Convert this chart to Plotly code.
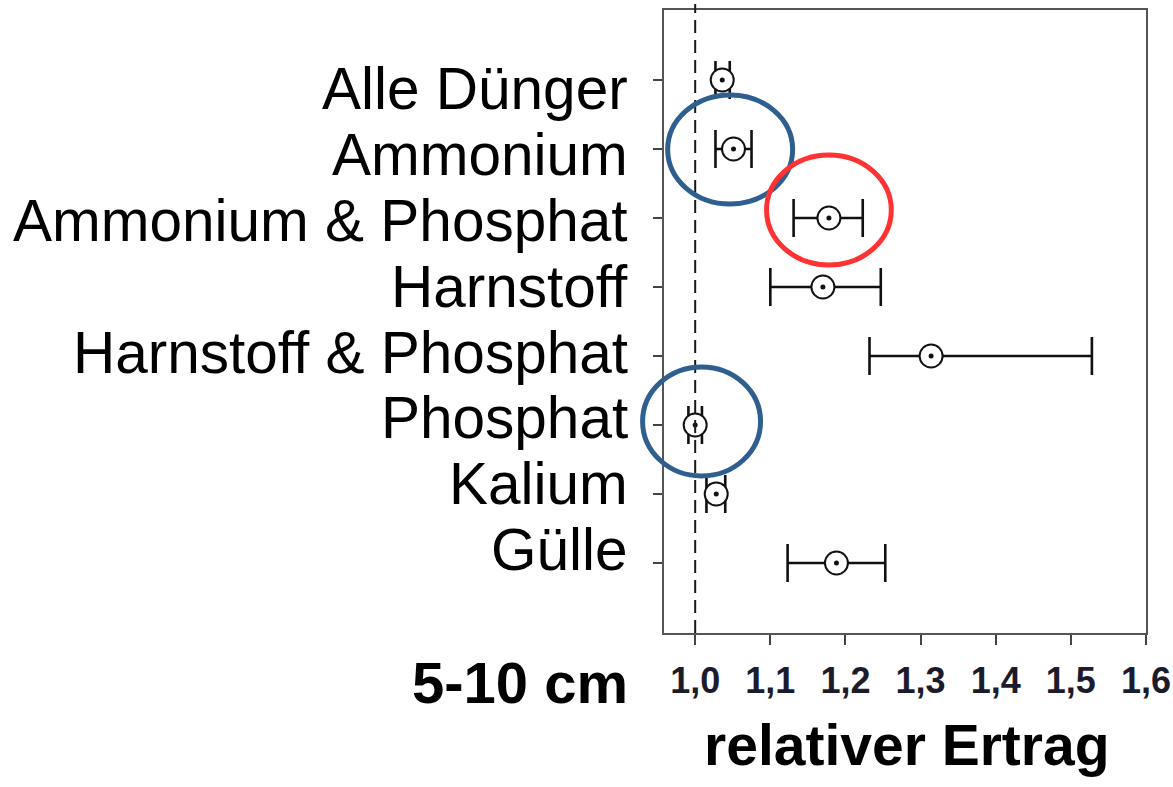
import plotly.graph_objects as go

# ---------------- data ----------------
categories = [
    "Alle Dünger",
    "Ammonium",
    "Ammonium & Phosphat",
    "Harnstoff",
    "Harnstoff & Phosphat",
    "Phosphat",
    "Kalium",
    "Gülle",
]
mean_values = [1.036, 1.051, 1.178, 1.170, 1.314, 1.000, 1.028, 1.188]
ci_low = [1.027, 1.027, 1.131, 1.100, 1.232, 0.991, 1.015, 1.123]
ci_high = [1.046, 1.075, 1.223, 1.247, 1.528, 1.009, 1.040, 1.253]

x_tick_values = [1.0, 1.1, 1.2, 1.3, 1.4, 1.5, 1.6]
x_tick_labels = ["1,0", "1,1", "1,2", "1,3", "1,4", "1,5", "1,6"]
reference_value = 1.0
depth_label = "5-10 cm"
x_title = "relativer Ertrag"

# highlight ellipses (value span, category span, colour)
highlights = [
    ((0.9634, 1.1297), (0.217, 1.797), "#2f5f8f"),
    ((1.095, 1.261), (1.087, 2.681), "#ff3333"),
    ((0.930, 1.087), (4.159, 5.739), "#2f5f8f"),
]

# ---------------- layout geometry ----------------
X_RANGE = [0.9585, 1.6]
Y_RANGE = [8.0145, -1.0145]
W, H = 1173, 787
M = dict(l=664, r=27, t=10, b=154)
PLOT_W = W - M["l"] - M["r"]
PLOT_H = H - M["t"] - M["b"]

# category labels sit on a slightly tighter pitch than the ticks
LABEL_OFFSET = 0.13
LABEL_PITCH = 0.9536


def px(v):
    return (v - X_RANGE[0]) / (X_RANGE[1] - X_RANGE[0])


def py(c):
    return (c - Y_RANGE[0]) / (Y_RANGE[1] - Y_RANGE[0])


def paper_x_from_pixel(p):
    return (p - M["l"]) / PLOT_W


def paper_y_from_pixel(p):
    return (M["t"] + PLOT_H - p) / PLOT_H


y_idx = list(range(len(categories)))
err_plus = [h - m for h, m in zip(ci_high, mean_values)]
err_minus = [m - l for m, l in zip(mean_values, ci_low)]

fig = go.Figure()
fig.add_trace(go.Scatter(
    x=mean_values, y=y_idx, mode="markers",
    marker=dict(symbol="circle", size=23, color="white",
                line=dict(color="#111111", width=2)),
    error_x=dict(type="data", symmetric=False, array=err_plus,
                 arrayminus=err_minus, color="#111111", thickness=2.6, width=19),
    showlegend=False, hoverinfo="skip",
))
fig.add_trace(go.Scatter(
    x=mean_values, y=y_idx, mode="markers",
    marker=dict(symbol="circle", size=5, color="#111111"),
    showlegend=False, hoverinfo="skip",
))

shapes = [
    dict(type="line", xref="paper", yref="paper",
         x0=px(reference_value), x1=px(reference_value),
         y0=0, y1=1 + 6 / PLOT_H,
         line=dict(color="#1a1a1a", width=2, dash="13px,7px"), layer="above"),
]
for (xa, xb), (ca, cb), col in highlights:
    shapes.append(dict(type="circle", xref="paper", yref="paper",
                       x0=px(xa), x1=px(xb), y0=py(cb), y1=py(ca),
                       line=dict(color=col, width=5), layer="above"))

label_font = dict(family="Liberation Sans", size=58.5, color="black")
annotations = []
for i, name in enumerate(categories):
    annotations.append(dict(
        text=name, xref="paper", yref="y",
        x=paper_x_from_pixel(630), y=LABEL_OFFSET + LABEL_PITCH * i,
        xanchor="right", yanchor="middle", showarrow=False, font=label_font))

annotations += [
    dict(text=depth_label, xref="paper", yref="paper",
         x=paper_x_from_pixel(630), y=paper_y_from_pixel(682),
         xanchor="right", yanchor="middle", showarrow=False,
         font=dict(family="Liberation Sans", size=58, color="black", weight="bold")),
    dict(text=x_title, xref="paper", yref="paper",
         x=paper_x_from_pixel(907), y=paper_y_from_pixel(745),
         xanchor="center", yanchor="middle", showarrow=False,
         font=dict(family="Liberation Sans", size=57, color="black", weight="bold")),
]

fig.update_layout(
    width=W, height=H, margin=M,
    paper_bgcolor="white", plot_bgcolor="white",
    shapes=shapes, annotations=annotations,
    xaxis=dict(range=X_RANGE, tickvals=x_tick_values, ticktext=x_tick_labels,
               ticks="outside", ticklen=10, tickwidth=1.5, tickcolor="#444444",
               showline=True, linecolor="#555555", linewidth=1.5, mirror=True,
               showgrid=False, zeroline=False, automargin=False,
               tickfont=dict(family="Liberation Sans", size=36, color="#1b1b2b",
                             weight="bold"),
               ticklabelstandoff=5),
    yaxis=dict(range=Y_RANGE, tickvals=y_idx, ticktext=[""] * len(y_idx),
               ticks="outside", ticklen=9, tickwidth=1.5, tickcolor="#444444",
               showline=True, linecolor="#555555", linewidth=1.5, mirror=True,
               showgrid=False, zeroline=False, automargin=False),
)

fig.write_html("out.html")
